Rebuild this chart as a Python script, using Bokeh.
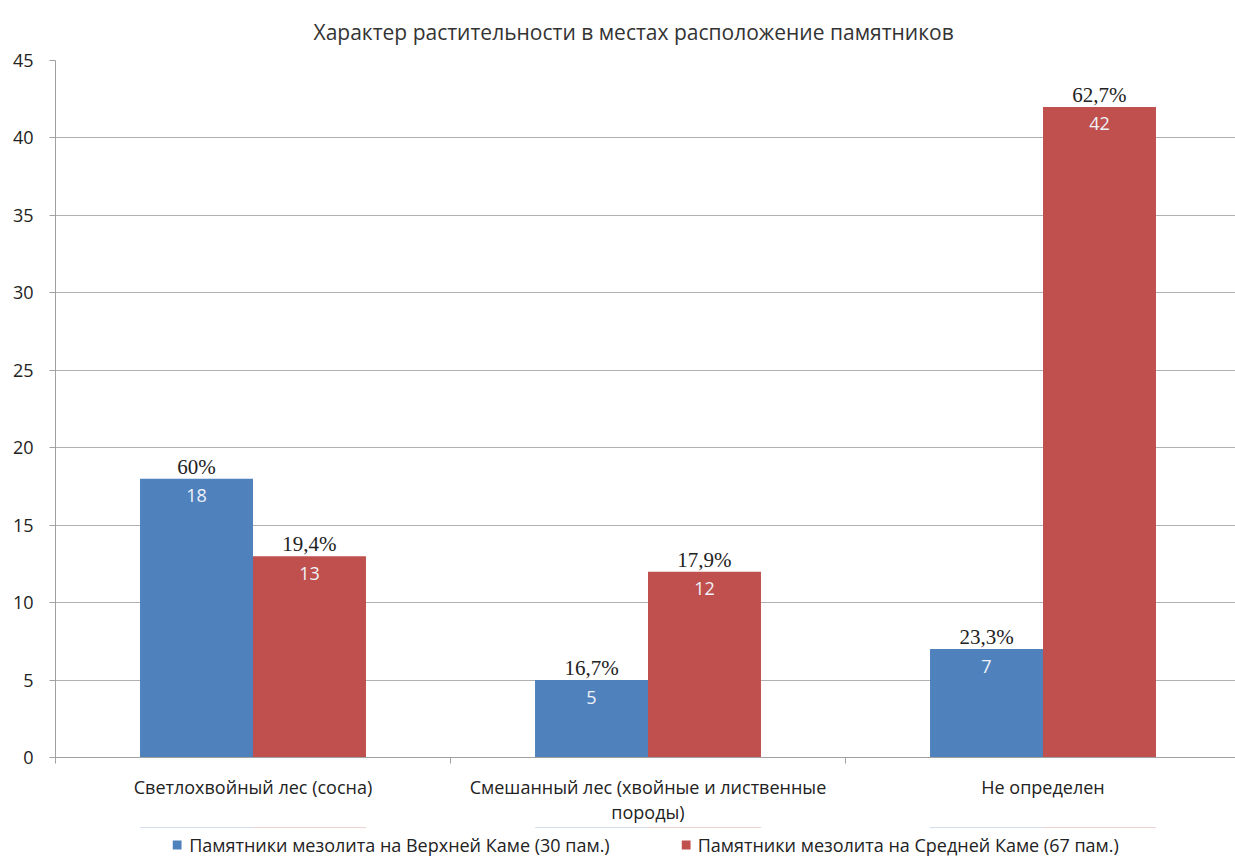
from bokeh.plotting import figure
from bokeh.layouts import column
from bokeh.models import (ColumnDataSource, FixedTicker, Range1d, Legend,
                          LegendItem, LabelSet)
from bokeh.embed import file_html
from bokeh.resources import INLINE
from bokeh.core.properties import value

# ---- data ----
categories = ["Светлохвойный лес (сосна)",
              "Смешанный лес (хвойные и лиственные\nпороды)",
              "Не определен"]
upper_kama = [18, 5, 7]
middle_kama = [13, 12, 42]
upper_pct = ["60%", "16,7%", "23,3%"]
middle_pct = ["19,4%", "17,9%", "62,7%"]
series_names = ["Памятники мезолита на Верхней Каме (30 пам.)",
                "Памятники мезолита на Средней Каме (67 пам.)"]
y_ticks = [0, 5, 10, 15, 20, 25, 30, 35, 40, 45]
title_text = "Характер растительности в местах расположение памятников"

BLUE = "#4F81BD"
RED = "#C0504D"
FONT = "Open Sans"

centers = [i + 0.5 for i in range(len(categories))]
bw = 0.286
src_u = ColumnDataSource(dict(x=[c - bw / 2 for c in centers], top=upper_kama,
                              cnt=[str(v) for v in upper_kama], pct=upper_pct))
src_m = ColumnDataSource(dict(x=[c + bw / 2 for c in centers], top=middle_kama,
                              cnt=[str(v) for v in middle_kama], pct=middle_pct))

p = figure(frame_width=1180, frame_height=697, output_backend="svg",
           toolbar_location=None,
           x_range=Range1d(0, 1180 / 395), y_range=Range1d(0, 45),
           min_border_left=55, min_border_right=0, min_border_top=60,
           min_border_bottom=70)
p.title.text = title_text
p.title.align = "left"
p.title.offset = 258
p.title.text_font = FONT
p.title.text_font_size = "21px"
p.title.text_font_style = "normal"
p.title.text_color = "#333333"
p.title.standoff = 30
p.outline_line_color = None
p.background_fill_color = "white"

r1 = p.vbar(x="x", top="top", width=bw, bottom=0, source=src_u,
            fill_color=BLUE, line_color=None)
r2 = p.vbar(x="x", top="top", width=bw, bottom=0, source=src_m,
            fill_color=RED, line_color=None)

for src in (src_u, src_m):
    p.add_layout(LabelSet(x="x", y="top", text="pct", source=src,
                          text_align="center", text_baseline="bottom",
                          y_offset=0, text_font=value("Liberation Serif"),
                          text_font_size="21px", text_color="#222222"))
    p.add_layout(LabelSet(x="x", y="top", text="cnt", source=src,
                          text_align="center", text_baseline="middle",
                          y_offset=-17, text_font=value(FONT),
                          text_font_size="18px", text_color="#eef2f8"))

# axes
p.xaxis.ticker = FixedTicker(ticks=centers, minor_ticks=[0, 1, 2, 3])
p.xaxis.major_label_overrides = {c: lab for c, lab in zip(centers, categories)}
p.xaxis.major_tick_out = 0
p.xaxis.major_tick_in = 0
p.xaxis.minor_tick_out = 6
p.xaxis.minor_tick_in = 0
p.xaxis.minor_tick_line_color = "#a0a0a0"
p.xaxis.axis_line_color = "#a0a0a0"
p.xaxis.major_label_standoff = 11
p.xaxis.major_label_text_font = FONT
p.xaxis.major_label_text_font_size = "18px"
p.xaxis.major_label_text_line_height = 1.05
p.xaxis.major_label_text_color = "#222222"

p.yaxis.ticker = FixedTicker(ticks=y_ticks)
p.yaxis.minor_tick_line_color = None
p.yaxis.major_tick_out = 6
p.yaxis.major_tick_in = 0
p.yaxis.major_tick_line_color = "#a0a0a0"
p.yaxis.axis_line_color = "#a0a0a0"
p.yaxis.major_label_standoff = 16
p.yaxis.major_label_text_font = FONT
p.yaxis.major_label_text_font_size = "18px"
p.yaxis.major_label_text_color = "#222222"

p.xgrid.grid_line_color = None
p.ygrid.grid_line_color = "#b0b0b0"
p.ygrid.grid_line_width = 1

# ---- legend strip below the chart (same data, kept far out of view) ----
lg = figure(width=1235, height=35, output_backend="svg", toolbar_location=None,
            x_range=Range1d(0, 1180 / 395), y_range=Range1d(-1000, -990),
            x_axis_location=None, y_axis_location=None,
            min_border=0)
lg.outline_line_color = None
lg.xgrid.grid_line_color = None
lg.ygrid.grid_line_color = None
l1 = lg.vbar(x="x", top="top", width=bw, bottom=0, source=src_u,
             fill_color=BLUE, line_color=None)
l2 = lg.vbar(x="x", top="top", width=bw, bottom=0, source=src_m,
             fill_color=RED, line_color=None)
legend = Legend(items=[LegendItem(label=series_names[0], renderers=[l1]),
                       LegendItem(label=series_names[1], renderers=[l2])],
                orientation="horizontal", location="center",
                glyph_width=11, glyph_height=11, spacing=70,
                label_text_font=FONT, label_text_font_size="18px",
                label_text_color="#222222", border_line_color=None,
                background_fill_alpha=0,
                padding=0, margin=0, label_standoff=7)
lg.add_layout(legend, "center")

open("out.html", "w").write(file_html(column(p, lg, spacing=0), INLINE))
